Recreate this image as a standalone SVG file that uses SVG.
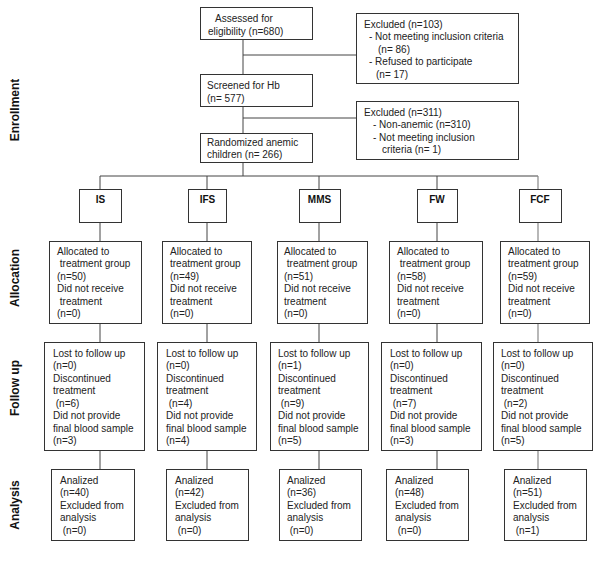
<svg xmlns="http://www.w3.org/2000/svg" width="600" height="562" viewBox="0 0 600 562">
<style>
.box{fill:#fff;stroke:#333;stroke-width:1}
.t{font-family:"Liberation Sans",Arial,sans-serif;font-size:10px;fill:#222}
.h{font-family:"Liberation Sans",Arial,sans-serif;font-size:10px;font-weight:bold;fill:#111;text-anchor:middle}
.side{font-family:"Liberation Sans",Arial,sans-serif;font-size:12px;font-weight:bold;fill:#111;text-anchor:middle}
.ln{stroke:#444;stroke-width:1;fill:none}
.lg{stroke:#888;stroke-width:1.2;fill:none}
</style>
<rect width="600" height="562" fill="#fff"/>
<g id="labels">
<text class="side" transform="translate(19,110) rotate(-90)">Enrollment</text>
<text class="side" transform="translate(19,278) rotate(-90)">Allocation</text>
<text class="side" transform="translate(19,388) rotate(-90)">Follow up</text>
<text class="side" transform="translate(19,505) rotate(-90)">Analysis</text>
</g>
<g id="connectors">
<path class="ln" d="M243,39V74M243,55H356M243,106V133M243,118H356M243,162V176M100,176H538"/>
<path class="ln" d="M100,176V189M207,176V189M319,176V189M437,176V189"/>
<path class="lg" d="M538,176V189"/>
<path class="ln" d="M100,222V241M207,222V241M319,222V241M437,222V241"/>
<path class="lg" d="M538,222V241"/>
<path class="ln" d="M100,323V342M207,323V342M319,323V342M437,323V342"/>
<path class="lg" d="M538,323V342"/>
<path class="ln" d="M100,450V469M207,450V469M319,450V469M437,450V469"/>
<path class="lg" d="M538,450V469"/>
</g>
<g id="assessed">
<rect class="box" x="200.5" y="7.5" width="112" height="32"/>
<text class="t" x="215" y="21.5">Assessed for</text>
<text class="t" x="208" y="35">eligibility (n=680)</text>
</g>
<g id="excluded1">
<rect class="box" x="356.5" y="13.5" width="162" height="70"/>
<text class="t" x="364" y="27.5">Excluded (n=103)</text>
<text class="t" x="369" y="40">- Not meeting inclusion criteria</text>
<text class="t" x="378" y="52.5">(n= 86)</text>
<text class="t" x="369" y="65">- Refused to participate</text>
<text class="t" x="376" y="77.5">(n= 17)</text>
</g>
<g id="screened">
<rect class="box" x="200.5" y="74.5" width="112" height="32"/>
<text class="t" x="207" y="89">Screened for Hb</text>
<text class="t" x="207" y="102">(n= 577)</text>
</g>
<g id="excluded2">
<rect class="box" x="356.5" y="101.5" width="162" height="58"/>
<text class="t" x="364" y="115.5">Excluded (n=311)</text>
<text class="t" x="373" y="128">- Non-anemic (n=310)</text>
<text class="t" x="373" y="140.5">- Not meeting inclusion</text>
<text class="t" x="382" y="153">criteria (n= 1)</text>
</g>
<g id="randomized">
<rect class="box" x="200.5" y="133.5" width="112" height="29"/>
<text class="t" x="207" y="145.5">Randomized anemic</text>
<text class="t" x="207" y="158">children  (n= 266)</text>
</g>
<g id="IS">
<rect class="box" x="79.5" y="189.5" width="42" height="33"/>
<text class="h" x="100.5" y="203">IS</text>
</g>
<g id="IFS">
<rect class="box" x="188.5" y="189.5" width="38" height="33"/>
<text class="h" x="207.5" y="203">IFS</text>
</g>
<g id="MMS">
<rect class="box" x="299.5" y="189.5" width="41" height="33"/>
<text class="h" x="319.5" y="203">MMS</text>
</g>
<g id="FW">
<rect class="box" x="417.5" y="189.5" width="40" height="33"/>
<text class="h" x="437" y="203">FW</text>
</g>
<g id="FCF">
<rect class="box" x="519.5" y="189.5" width="42" height="33"/>
<text class="h" x="540" y="203">FCF</text>
</g>
<g id="alloc-IS">
<rect class="box" x="49.5" y="241.5" width="92" height="82"/>
<text class="t" x="57" y="254.5">Allocated to</text>
<text class="t" x="57" y="267" xml:space="preserve"> treatment group</text>
<text class="t" x="57" y="279.5">(n=50)</text>
<text class="t" x="57" y="292">Did not receive</text>
<text class="t" x="57" y="304.5" xml:space="preserve"> treatment</text>
<text class="t" x="57" y="317">(n=0)</text>
</g>
<g id="alloc-IFS">
<rect class="box" x="162.5" y="241.5" width="89" height="82"/>
<text class="t" x="170" y="254.5">Allocated to</text>
<text class="t" x="170" y="267">treatment group</text>
<text class="t" x="170" y="279.5">(n=49)</text>
<text class="t" x="170" y="292">Did not receive</text>
<text class="t" x="170" y="304.5">treatment</text>
<text class="t" x="170" y="317">(n=0)</text>
</g>
<g id="alloc-MMS">
<rect class="box" x="277.5" y="241.5" width="90" height="82"/>
<text class="t" x="284" y="254.5">Allocated to</text>
<text class="t" x="284" y="267" xml:space="preserve"> treatment group</text>
<text class="t" x="284" y="279.5">(n=51)</text>
<text class="t" x="284" y="292">Did not receive</text>
<text class="t" x="284" y="304.5">treatment</text>
<text class="t" x="284" y="317">(n=0)</text>
</g>
<g id="alloc-FW">
<rect class="box" x="389.5" y="241.5" width="93" height="82"/>
<text class="t" x="397" y="254.5">Allocated to</text>
<text class="t" x="397" y="267" xml:space="preserve"> treatment group</text>
<text class="t" x="397" y="279.5">(n=58)</text>
<text class="t" x="397" y="292">Did not receive</text>
<text class="t" x="397" y="304.5">treatment</text>
<text class="t" x="397" y="317">(n=0)</text>
</g>
<g id="alloc-FCF">
<rect class="box" x="500.5" y="241.5" width="89" height="82"/>
<text class="t" x="508" y="254.5">Allocated to</text>
<text class="t" x="508" y="267">treatment group</text>
<text class="t" x="508" y="279.5">(n=59)</text>
<text class="t" x="508" y="292">Did not receive</text>
<text class="t" x="508" y="304.5">treatment</text>
<text class="t" x="508" y="317">(n=0)</text>
</g>
<g id="follow-IS">
<rect class="box" x="44.5" y="342.5" width="100" height="108"/>
<text class="t" x="53" y="356.5">Lost to follow up</text>
<text class="t" x="53" y="369">(n=0)</text>
<text class="t" x="53" y="381.5">Discontinued</text>
<text class="t" x="53" y="394">treatment</text>
<text class="t" x="53" y="406.5" xml:space="preserve"> (n=6)</text>
<text class="t" x="53" y="419">Did not provide</text>
<text class="t" x="53" y="431.5">final blood sample</text>
<text class="t" x="53" y="444">(n=3)</text>
</g>
<g id="follow-IFS">
<rect class="box" x="157.5" y="342.5" width="99" height="108"/>
<text class="t" x="166" y="356.5">Lost to follow up</text>
<text class="t" x="166" y="369">(n=0)</text>
<text class="t" x="166" y="381.5">Discontinued</text>
<text class="t" x="166" y="394">treatment</text>
<text class="t" x="166" y="406.5" xml:space="preserve"> (n=4)</text>
<text class="t" x="166" y="419">Did not provide</text>
<text class="t" x="166" y="431.5">final blood sample</text>
<text class="t" x="166" y="444">(n=4)</text>
</g>
<g id="follow-MMS">
<rect class="box" x="270.5" y="342.5" width="98" height="108"/>
<text class="t" x="278" y="356.5">Lost to follow up</text>
<text class="t" x="278" y="369">(n=1)</text>
<text class="t" x="278" y="381.5">Discontinued</text>
<text class="t" x="278" y="394">treatment</text>
<text class="t" x="278" y="406.5" xml:space="preserve"> (n=9)</text>
<text class="t" x="278" y="419">Did not provide</text>
<text class="t" x="278" y="431.5">final blood sample</text>
<text class="t" x="278" y="444">(n=5)</text>
</g>
<g id="follow-FW">
<rect class="box" x="381.5" y="342.5" width="100" height="108"/>
<text class="t" x="390" y="356.5">Lost to follow up</text>
<text class="t" x="390" y="369">(n=0)</text>
<text class="t" x="390" y="381.5">Discontinued</text>
<text class="t" x="390" y="394">treatment</text>
<text class="t" x="390" y="406.5" xml:space="preserve"> (n=7)</text>
<text class="t" x="390" y="419">Did not provide</text>
<text class="t" x="390" y="431.5">final blood sample</text>
<text class="t" x="390" y="444">(n=3)</text>
</g>
<g id="follow-FCF">
<rect class="box" x="493.5" y="342.5" width="99" height="108"/>
<text class="t" x="501" y="356.5">Lost to follow up</text>
<text class="t" x="501" y="369">(n=0)</text>
<text class="t" x="501" y="381.5">Discontinued</text>
<text class="t" x="501" y="394">treatment</text>
<text class="t" x="501" y="406.5" xml:space="preserve"> (n=2)</text>
<text class="t" x="501" y="419">Did not provide</text>
<text class="t" x="501" y="431.5">final blood sample</text>
<text class="t" x="501" y="444">(n=5)</text>
</g>
<g id="analysis-IS">
<rect class="box" x="51.5" y="469.5" width="83" height="71"/>
<text class="t" x="60" y="483.5">Analized</text>
<text class="t" x="60" y="496">(n=40)</text>
<text class="t" x="60" y="508.5">Excluded from</text>
<text class="t" x="60" y="521">analysis</text>
<text class="t" x="60" y="533.5" xml:space="preserve"> (n=0)</text>
</g>
<g id="analysis-IFS">
<rect class="box" x="166.5" y="469.5" width="82" height="71"/>
<text class="t" x="175" y="483.5">Analized</text>
<text class="t" x="175" y="496">(n=42)</text>
<text class="t" x="175" y="508.5">Excluded from</text>
<text class="t" x="175" y="521">analysis</text>
<text class="t" x="175" y="533.5" xml:space="preserve"> (n=0)</text>
</g>
<g id="analysis-MMS">
<rect class="box" x="279.5" y="469.5" width="82" height="71"/>
<text class="t" x="287" y="483.5">Analized</text>
<text class="t" x="287" y="496">(n=36)</text>
<text class="t" x="287" y="508.5">Excluded from</text>
<text class="t" x="287" y="521">analysis</text>
<text class="t" x="287" y="533.5" xml:space="preserve"> (n=0)</text>
</g>
<g id="analysis-FW">
<rect class="box" x="386.5" y="469.5" width="82" height="71"/>
<text class="t" x="395" y="483.5">Analized</text>
<text class="t" x="395" y="496">(n=48)</text>
<text class="t" x="395" y="508.5">Excluded from</text>
<text class="t" x="395" y="521">analysis</text>
<text class="t" x="395" y="533.5" xml:space="preserve"> (n=0)</text>
</g>
<g id="analysis-FCF">
<rect class="box" x="504.5" y="469.5" width="82" height="71"/>
<text class="t" x="513" y="483.5">Analized</text>
<text class="t" x="513" y="496">(n=51)</text>
<text class="t" x="513" y="508.5">Excluded from</text>
<text class="t" x="513" y="521">analysis</text>
<text class="t" x="513" y="533.5" xml:space="preserve"> (n=1)</text>
</g>
</svg>
